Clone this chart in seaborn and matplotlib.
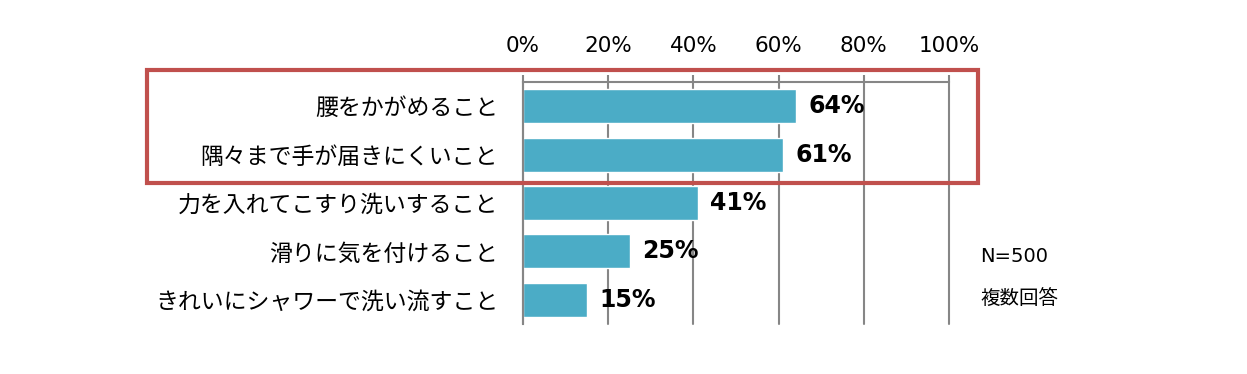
import numpy as np
import pandas as pd
import matplotlib
matplotlib.use("Agg")
import matplotlib.pyplot as plt
import seaborn as sns
from matplotlib.patches import Rectangle

# data
items = ['腰をかがめること', '隅々まで手が届きにくいこと', '力を入れてこすり洗いすること',
         '滑りに気を付けること', 'きれいにシャワーで洗い流すこと']
values = [64, 61, 41, 25, 15]
xticks = [0, 20, 40, 60, 80, 100]
note_n = 'N=500'
note_multi = '複数回答'

sns.set_style('white')
plt.rcParams['font.family'] = ['DejaVu Sans', 'Noto Sans CJK JP']
plt.rcParams['text.color'] = 'black'
plt.rcParams['xtick.labelcolor'] = 'black'
plt.rcParams['ytick.labelcolor'] = 'black'

bar_color = '#4BACC6'
grid_color = '#868686'

df = pd.DataFrame({'item': items, 'value': values})

fig = plt.figure(figsize=(12.47, 3.74), dpi=100)
ax = fig.add_axes([523 / 1247, 1 - 324 / 374, (949 - 523) / 1247, (324 - 82) / 374])

sns.barplot(data=df, x='value', y='item', orient='h', color=bar_color,
            width=0.7, saturation=1, ax=ax)

ax.set_xlim(0, 100)
ax.set_ylim(len(items) - 0.5, -0.5)
ax.set_xlabel('')
ax.set_ylabel('')

# top axis
ax.xaxis.tick_top()
ax.set_xticks(xticks)
ax.set_xticklabels([f'{t}%' for t in xticks], fontsize=15.5)
ax.tick_params(axis='x', length=5, width=1.5, color=grid_color, pad=14)
ax.xaxis.grid(True, color=grid_color, linewidth=1.5)
for line in ax.get_xgridlines():
    line.set_clip_on(False)
ax.set_axisbelow(True)

# category labels and boundary ticks
ax.tick_params(axis='y', length=0, pad=18, labelsize=16.5)
ax.set_yticks(np.arange(-0.5, len(items)), minor=True)
ax.tick_params(axis='y', which='minor', length=5, width=1.5, color=grid_color)

for side in ['right', 'bottom']:
    ax.spines[side].set_visible(False)
for side in ['top', 'left']:
    ax.spines[side].set_color(grid_color)
    ax.spines[side].set_linewidth(1.5)

# value labels
for i, v in enumerate(values):
    ax.text(v + 3, i, f'{v}%', va='center', ha='left', fontsize=17,
            fontweight='bold', color='black')

# notes
fig.text(980 / 1247, 1 - 257 / 374, note_n, fontsize=14, va='center', ha='left')
fig.text(980 / 1247, 1 - 298 / 374, note_multi, fontsize=14, va='center', ha='left')

# highlight box
fig.patches.append(Rectangle((147 / 1247, 1 - 183 / 374), (978 - 147) / 1247,
                             (183 - 70) / 374, transform=fig.transFigure,
                             fill=False, edgecolor='#C0504D', linewidth=3, zorder=10))

fig.savefig('out.png', dpi=100)
